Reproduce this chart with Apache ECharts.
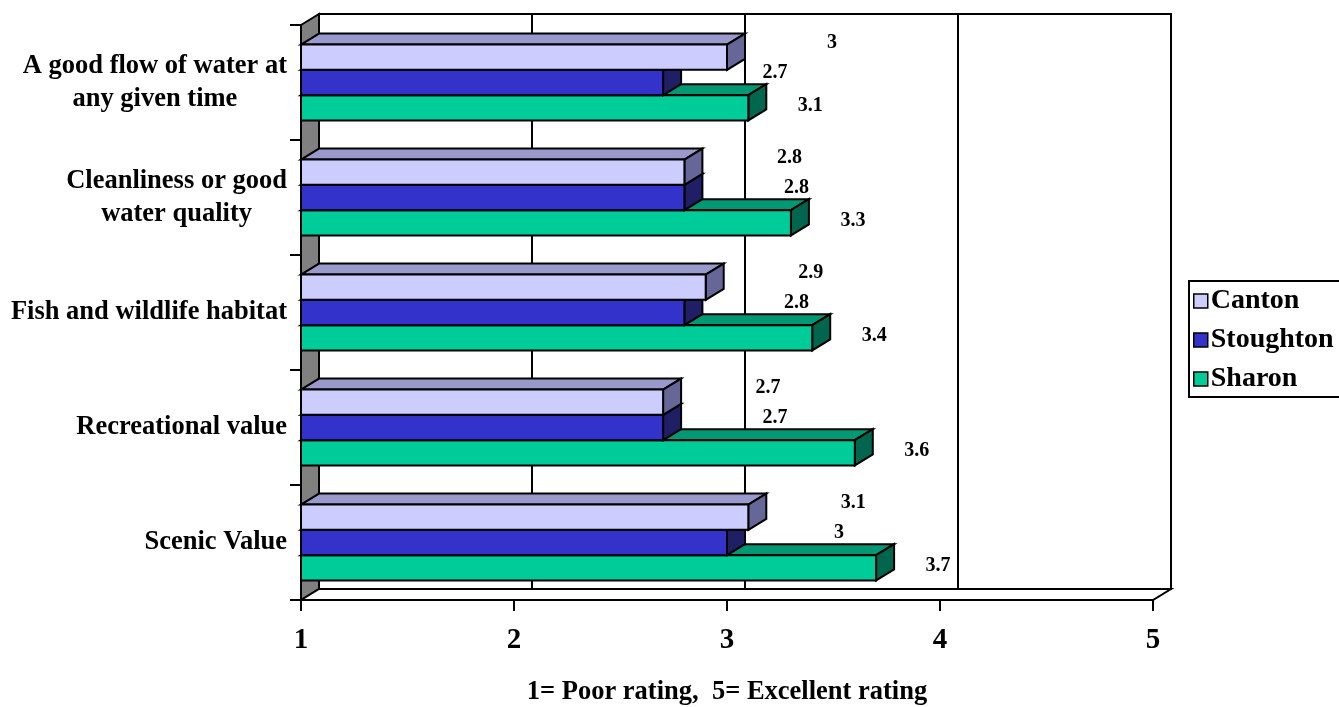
<!DOCTYPE html>
<html>
<head>
<meta charset="utf-8">
<script src="https://cdn.jsdelivr.net/npm/echarts@6/dist/echarts.min.js"></script>
<style>
html,body{margin:0;padding:0;background:#fff;}
#chart{width:1339px;height:707px;}
</style>
</head>
<body>
<div id="chart"></div>
<script>
// ---- data ----
const categories = ['A good flow of water at\nany given time', 'Cleanliness or good\nwater quality', 'Fish and wildlife habitat', 'Recreational value', 'Scenic Value'];
const seriesNames = ['Canton', 'Stoughton', 'Sharon'];
const canton = [3, 2.8, 2.9, 2.7, 3.1];
const stoughton = [2.7, 2.8, 2.8, 2.7, 3];
const sharon = [3.1, 3.3, 3.4, 3.6, 3.7];
const xTicks = [1, 2, 3, 4, 5];
const xTitle = '1= Poor rating,  5= Excellent rating';

// ---- styles ----
const FONT = '"Liberation Serif", "Times New Roman", serif';
const DX = 18, DY = -11;
const palette = [
  {front: '#CCCCFF', top: '#9999CC', side: '#666699', lblX: 105, lblY: -14, z: 5},
  {front: '#3333CC', top: '#262699', side: '#1F1F66', lblX: 112, lblY: -10, z: 4},
  {front: '#00CC99', top: '#009973', side: '#00664D', lblX: 62, lblY: -2, z: 3}
];
const allValues = [canton, stoughton, sharon];
const xMin = xTicks[0], xMax = xTicks[xTicks.length - 1];

function barRender(k) {
  const p = palette[k];
  return function (params, api) {
    const v = api.value(0), ci = api.value(1);
    const end = api.coord([v, ci]);
    const start = api.coord([xMin, ci]);
    const band = api.size([0, 1])[1];
    const bw = band * 0.22;
    const top = end[1] - bw * 1.5 + k * bw;
    const bottom = top + bw;
    const x0 = start[0], x1 = end[0];
    const ln = {stroke: '#000', lineWidth: 2, lineJoin: 'miter'};
    return {
      type: 'group',
      children: [
        {type: 'polygon', shape: {points: [[x0, top], [x0 + DX, top + DY], [x1 + DX, top + DY], [x1, top]]},
          style: Object.assign({fill: p.top}, ln)},
        {type: 'polygon', shape: {points: [[x1, top], [x1 + DX, top + DY], [x1 + DX, bottom + DY], [x1, bottom]]},
          style: Object.assign({fill: p.side}, ln)},
        {type: 'rect', shape: {x: x0, y: top, width: x1 - x0, height: bw},
          style: Object.assign({fill: p.front}, ln)},
        {type: 'text', z2: 100, style: {text: String(v), x: x1 + p.lblX, y: top + bw / 2 + p.lblY,
          align: 'center', verticalAlign: 'middle', textAlign: 'center', textVerticalAlign: 'middle',
          font: 'bold 20px ' + FONT, fill: '#000'}}
      ]
    };
  };
}

function wallRender(params, api) {
  const n = categories.length;
  const band = api.size([0, 1])[1];
  const yTop = api.coord([xMin, 0])[1] - band / 2;
  const yBot = api.coord([xMin, n - 1])[1] + band / 2;
  const xL = api.coord([xMin, 0])[0];
  const xR = api.coord([xMax, 0])[0];
  const ln = {stroke: '#000', lineWidth: 2};
  const children = [
    {type: 'rect', shape: {x: xL + DX, y: yTop + DY, width: xR - xL, height: yBot - yTop}, style: Object.assign({fill: '#fff'}, ln)},
    {type: 'polygon', shape: {points: [[xL, yTop], [xL + DX, yTop + DY], [xL + DX, yBot + DY], [xL, yBot]]}, style: Object.assign({fill: '#808080'}, ln)},
    {type: 'polygon', shape: {points: [[xL, yBot], [xL + DX, yBot + DY], [xR + DX, yBot + DY], [xR, yBot]]}, style: Object.assign({fill: '#fff'}, ln)}
  ];
  for (let i = 1; i < xTicks.length - 1; i++) {
    const gx = api.coord([xTicks[i], 0])[0] + DX;
    children.push({type: 'line', shape: {x1: gx, y1: yTop + DY, x2: gx, y2: yBot + DY}, style: ln});
  }
  return {type: 'group', children: children};
}

const series = [{
  type: 'custom', name: 'walls', z: 1, silent: true,
  renderItem: wallRender, data: [[xMin, 0]], encode: {x: 0, y: 1}
}];
seriesNames.forEach(function (name, k) {
  series.push({
    type: 'custom', name: name, z: palette[k].z,
    itemStyle: {color: palette[k].front, borderColor: '#000', borderWidth: 1.5},
    renderItem: barRender(k),
    data: allValues[k].map(function (v, i) { return [v, i]; }),
    encode: {x: 0, y: 1}
  });
});

const chart = echarts.init(document.getElementById('chart'), null, {renderer: 'canvas'});
chart.setOption({
  animation: false,
  backgroundColor: '#fff',
  grid: {left: 301, right: 186, top: 25, bottom: 107, containLabel: false, outerBoundsMode: 'none'},
  xAxis: {
    type: 'value', min: xMin, max: xMax, interval: 1, z: 10,
    axisLine: {show: true, lineStyle: {color: '#000', width: 2}},
    axisTick: {show: true, length: 11, lineStyle: {color: '#000', width: 2}},
    splitLine: {show: false},
    axisLabel: {margin: 26, color: '#000', fontFamily: FONT, fontWeight: 'bold', fontSize: 29,
      formatter: function (v) { return String(v); }},
    name: xTitle, nameLocation: 'middle', nameGap: 79,
    nameTextStyle: {color: '#000', fontFamily: FONT, fontWeight: 'bold', fontSize: 26.5}
  },
  yAxis: {
    type: 'category', data: categories, inverse: true, z: 10,
    axisLine: {show: true, lineStyle: {color: '#000', width: 2}},
    axisTick: {show: true, length: 11, lineStyle: {color: '#000', width: 2}},
    splitLine: {show: false},
    axisLabel: {margin: 14, color: '#000', fontFamily: FONT, fontWeight: 'bold', fontSize: 26.5,
      formatter: function (v) { return v.split('\n').map(function (s) { return '{c|' + s + '}'; }).join('\n'); },
      rich: {c: {align: 'center', color: '#000', fontFamily: FONT, fontWeight: 'bold', fontSize: 26.5, lineHeight: 33}}}
  },
  legend: {
    data: seriesNames, orient: 'vertical', left: 1189, top: 281,
    padding: [6, 30, 4, 4], itemGap: 11, itemWidth: 14, itemHeight: 14, icon: 'rect',
    borderColor: '#000', borderWidth: 2, backgroundColor: '#fff',
    itemStyle: {borderColor: '#000', borderWidth: 1.5},
    textStyle: {color: '#000', fontFamily: FONT, fontWeight: 'bold', fontSize: 28, lineHeight: 26, padding: [0, 0, 0, -2]}
  },
  series: series
});
</script>
</body>
</html>
